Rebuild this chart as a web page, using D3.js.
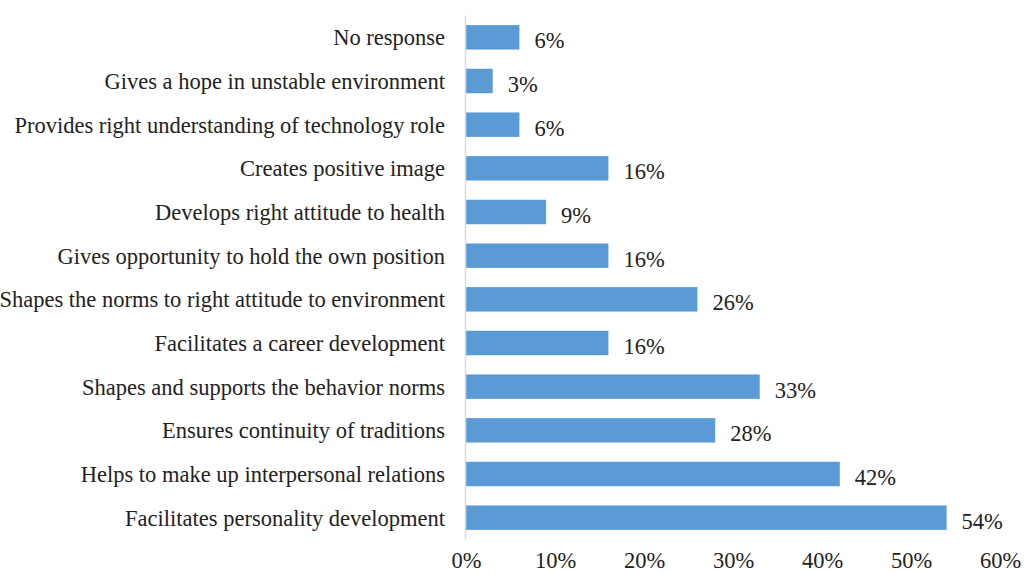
<!DOCTYPE html>
<html>
<head>
<meta charset="utf-8">
<script src="https://cdn.jsdelivr.net/npm/d3@7"></script>
<style>
  html, body { margin: 0; padding: 0; background: #fff; }
  svg { display: block; }
  text { font-family: "Liberation Serif", "Times New Roman", serif; fill: #222; }
</style>
</head>
<body>
<svg id="chart" width="1024" height="574"></svg>
<script>
const categories = [
  "No response",
  "Gives a hope in unstable environment",
  "Provides right understanding of technology role",
  "Creates positive image",
  "Develops right attitude to health",
  "Gives opportunity to hold the own position",
  "Shapes the norms to right attitude to environment",
  "Facilitates a career development",
  "Shapes and supports the behavior norms",
  "Ensures continuity of traditions",
  "Helps to make up interpersonal relations",
  "Facilitates personality development"
];
const values = [6, 3, 6, 16, 9, 16, 26, 16, 33, 28, 42, 54];
const tickValues = [0, 10, 20, 30, 40, 50, 60];

const svg = d3.select("#chart");
const x0 = 466, x1 = 1000, yTop = 15.5, yBottom = 539.5;
const fontSize = "22.5px";

const x = d3.scaleLinear().domain([0, 60]).range([x0, x1]);
const y = d3.scaleBand().domain(categories).range([yTop, yBottom]).paddingInner(0.44).paddingOuter(0.22);

// bars
svg.append("g").selectAll("rect")
  .data(values)
  .join("rect")
  .attr("x", x(0))
  .attr("y", (d, i) => y(categories[i]))
  .attr("width", d => x(d) - x(0))
  .attr("height", y.bandwidth())
  .attr("fill", "#5B9BD5");

// vertical category axis line
svg.append("line")
  .attr("x1", x0 - 0.5).attr("x2", x0 - 0.5)
  .attr("y1", yTop).attr("y2", yBottom)
  .attr("stroke", "#D9D9D9").attr("stroke-width", 1.5);

// category labels
svg.append("g").selectAll("text")
  .data(categories)
  .join("text")
  .attr("x", 445)
  .attr("y", d => y(d) + y.bandwidth() / 2)
  .attr("dy", "0.35em")
  .attr("text-anchor", "end")
  .style("font-size", fontSize)
  .text(d => d);

// value labels
svg.append("g").selectAll("text")
  .data(values)
  .join("text")
  .attr("x", d => x(d) + 15)
  .attr("y", (d, i) => y(categories[i]) + y.bandwidth() / 2 + 3)
  .attr("dy", "0.35em")
  .style("font-size", fontSize)
  .text(d => d + "%");

// value axis tick labels
const xAxis = d3.axisBottom(x).tickValues(tickValues).tickFormat(d => d + "%").tickSize(0).tickPadding(0);
const gx = svg.append("g").attr("transform", "translate(0,552)").call(xAxis);
gx.select(".domain").remove();
gx.selectAll("text").style("font-size", fontSize).style("font-family", "Liberation Serif, Times New Roman, serif").attr("fill", "#222");
</script>
</body>
</html>
